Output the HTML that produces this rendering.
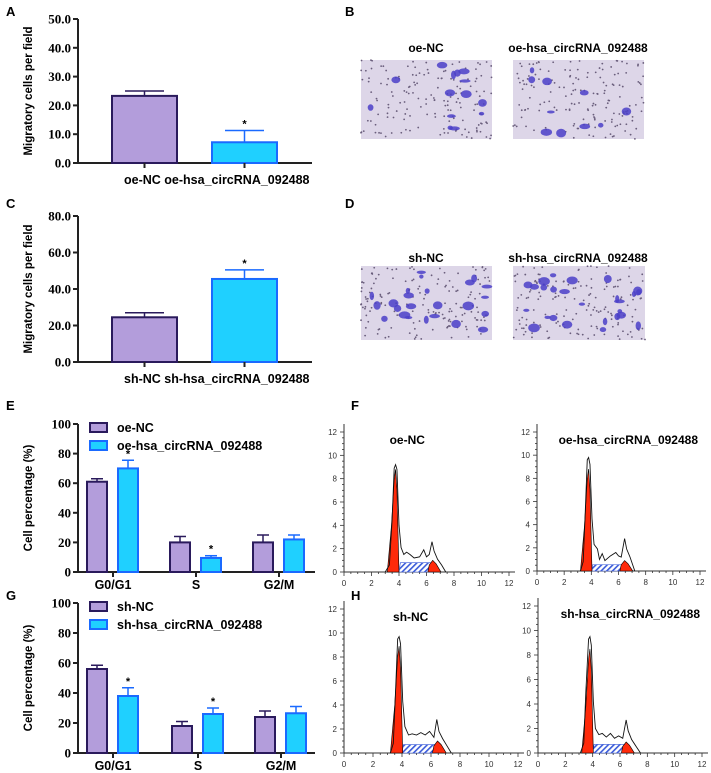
<!DOCTYPE html>
<html><head><meta charset="utf-8"><style>
html,body{margin:0;padding:0;background:#fff}
svg{display:block}
.lab{font-family:"Liberation Sans",sans-serif;font-weight:bold}
.tick{font-family:"Liberation Serif",serif;font-weight:bold}
.ht{font-family:"Liberation Sans",sans-serif;font-size:8px;fill:#333}
</style></head><body>
<svg id="fig" width="711" height="773" viewBox="0 0 711 773" xmlns="http://www.w3.org/2000/svg">
<defs>
<pattern id="hatch" width="4" height="4" patternUnits="userSpaceOnUse" patternTransform="rotate(45)">
<rect width="4" height="4" fill="#fff"/><rect width="1.6" height="4" fill="#3a5bd9"/>
</pattern>
</defs>
<g class="lab" font-size="13">
<text x="6" y="16">A</text>
<text x="345" y="16">B</text>
<text x="6" y="208">C</text>
<text x="345" y="208">D</text>
<text x="6" y="410">E</text>
<text x="351" y="410">F</text>
<text x="6" y="600">G</text>
<text x="351" y="600">H</text>
</g>
<g class="lab" font-size="12">
<text x="426" y="52" text-anchor="middle">oe-NC</text>
<text x="578" y="52" text-anchor="middle">oe-hsa_circRNA_092488</text>
<text x="426" y="262" text-anchor="middle">sh-NC</text>
<text x="578" y="262" text-anchor="middle">sh-hsa_circRNA_092488</text>
</g>
<g id="photos"></g>
<g id="charts"></g>
</svg>
<script>
// ---- bar chart data ----
const migCats = ["oe-NC","oe-hsa_circRNA_092488"];
const migA = [23.3, 7.2];
const migAErr = [25.0, 11.3];
const migCcats = ["sh-NC","sh-hsa_circRNA_092488"];
const migC = [24.5, 45.5];
const migCErr = [27.0, 50.5];
const phaseCats = ["G0/G1","S","G2/M"];
const eNC = [61, 20, 20];
const eNCErr = [63, 24, 25];
const eCirc = [70, 9.5, 22];
const eCircErr = [75.5, 11, 25];
const gNC = [56, 18, 24];
const gNCErr = [58.5, 21, 28];
const gCirc = [38, 26, 26.5];
const gCircErr = [43.5, 30, 31];
const ticksA = [0,10,20,30,40,50];
const ticksC = [0,20,40,60,80];
const ticksE = [0,20,40,60,80,100];
// ---- histogram data (x = DNA content, y = count) ----
const envOeNC = [[3.0,0],[3.3,0.6],[3.5,4.5],[3.65,8.9],[3.75,9.2],[3.85,8.8],[4.0,4],[4.15,2.1],[4.35,1.5],[4.55,1.7],[4.8,1.5],[5.1,1.2],[5.5,1.3],[5.8,1.9],[6.0,1.3],[6.2,1.5],[6.4,2.6],[6.55,1.8],[6.8,1.1],[7.1,0.6],[7.4,0]];
const envOeCirc = [[3.2,0],[3.4,0.8],[3.55,5],[3.7,9.6],[3.8,9.8],[3.9,9.2],[4.05,4.5],[4.2,2.3],[4.45,1.9],[4.6,1.0],[4.8,1.5],[5.0,0.9],[5.4,1.3],[5.8,1.6],[6.0,1.3],[6.2,1.2],[6.45,2.8],[6.6,1.9],[6.85,1.2],[7.2,0]];
const envShNC = [[3.2,0],[3.4,0.8],[3.55,5],[3.7,9.5],[3.8,9.7],[3.9,9.1],[4.05,4.3],[4.2,2.2],[4.45,1.5],[4.7,1.6],[5.0,1.5],[5.3,1.7],[5.6,1.5],[5.9,1.8],[6.2,1.3],[6.4,2.8],[6.55,1.8],[6.8,1.2],[7.1,0.6],[7.4,0]];
const envShCirc = [[3.1,0],[3.35,0.8],[3.5,5],[3.7,9.3],[3.8,9.5],[3.9,8.8],[4.05,4.2],[4.2,2.0],[4.45,1.5],[4.7,1.6],[5.0,1.3],[5.3,1.6],[5.6,1.2],[5.9,1.4],[6.2,1.2],[6.45,2.7],[6.6,1.8],[6.85,1.1],[7.2,0.5],[7.5,0]];
const g1Peaks = [8.8, 8.8, 8.9, 8.5];
const sHeights = [0.8, 0.55, 0.7, 0.7];
const g2Peaks = [1.0, 0.9, 1.0, 0.9];
const histTitles = ["oe-NC","oe-hsa_circRNA_092488","sh-NC","sh-hsa_circRNA_092488"];
const histTicks = [0,2,4,6,8,10,12];

const NS="http://www.w3.org/2000/svg";
const charts=document.getElementById('charts');
function mk(tag,attrs,parent){const e=document.createElementNS(NS,tag);for(const k in attrs)e.setAttribute(k,attrs[k]);(parent||charts).appendChild(e);return e;}
const NCF="#b39ddb",NCS="#2a1a5c",CF="#1fd0ff",CS="#1a6aff";

function yAxis(g,x0,y0,y1,max,ticks,fmt,title,right){
  const sy=v=>y0-(v/max)*(y0-y1);
  let l=mk('line',{x1:x0,y1:y1,x2:x0,y2:y0,stroke:'#222','stroke-width':2},g);
  
  
  ticks.forEach(t=>{
    mk('line',{x1:x0-5,x2:x0,y1:sy(t),y2:sy(t),stroke:'#222','stroke-width':2},g);
    const tx=mk('text',{x:x0-7,y:sy(t)+4.5,'text-anchor':'end','font-size':13,class:'tick'},g);
    tx.textContent=fmt(t);
    
    
  });
  mk('line',{x1:x0,y1:y0,x2:right,y2:y0,stroke:'#222','stroke-width':2},g);
  const yt=mk('text',{transform:`translate(${x0-46},${(y0+y1)/2}) rotate(-90)`,'text-anchor':'middle','font-size':11.5,class:'lab'},g);
  yt.textContent=title;
  
  
  return sy;
}
function bar(g,x,w,v,err,sy,fill,stroke,star,name){
  const y0=sy(0),y=sy(v);
  mk('line',{x1:x+w/2,x2:x+w/2,y1:y,y2:sy(err),stroke:stroke,'stroke-width':1.5},g);
  mk('line',{x1:x+w/2-w*0.3,x2:x+w/2+w*0.3,y1:sy(err),y2:sy(err),stroke:stroke,'stroke-width':1.5},g);
  const r=mk('rect',{x:x,y:y,width:w,height:y0-y,fill:fill,stroke:stroke,'stroke-width':2},g);
  
  
  if(star){const s=mk('text',{x:x+w/2,y:sy(err)-3,'text-anchor':'middle','font-size':11,class:'lab'},g);s.textContent='*';}
}
function migChart(y0,y1,max,ticks,cats,vals,errs,id){
  const g=mk('g',{});
  
  
  const sy=yAxis(g,78,y0,y1,max,ticks,t=>t.toFixed(1),'Migratory cells per field',312);
  const xs=[112,212],fills=[NCF,CF],strokes=[NCS,CS];
  cats.forEach((c,i)=>{
    bar(g,xs[i],65,vals[i],errs[i],sy,fills[i],strokes[i],i==1,'bar-'+c);
    mk('line',{x1:xs[i]+32.5,x2:xs[i]+32.5,y1:y0,y2:y0+5,stroke:'#222','stroke-width':2},g);
  });
  const t=mk('text',{x:124,y:y0+21,'font-size':12.5,class:'lab'},g);
  t.textContent=cats[0]+' '+cats[1];
  
  
}
migChart(163,19,50,ticksA,migCats,migA,migAErr,'migration-chart-oe');
migChart(362,216,80,ticksC,migCcats,migC,migCErr,'migration-chart-sh');

function cycleChart(y0,y1,nc,ncE,ci,ciE,lg,starsC,id,centers){
  const g=mk('g',{});
  
  
  const sy=yAxis(g,78,y0,y1,100,ticksE,t=>String(t),'Cell percentage (%)',315);
  phaseCats.forEach((c,i)=>{
    const cx=centers[i];
    bar(g,cx-26,20,nc[i],ncE[i],sy,NCF,NCS,false,'bar-nc-'+c);
    bar(g,cx+5,20,ci[i],ciE[i],sy,CF,CS,starsC[i],'bar-circ-'+c);
    mk('line',{x1:cx,x2:cx,y1:y0,y2:y0+5,stroke:'#222','stroke-width':2},g);
    const t=mk('text',{x:cx,y:y0+17,'text-anchor':'middle','font-size':12.5,class:'lab'},g);
    t.textContent=c;
    
    
  });
  [[NCF,NCS],[CF,CS]].forEach((p,i)=>{
    const r=mk('rect',{x:90,y:y1-1+i*18,width:17,height:9,fill:p[0],stroke:p[1],'stroke-width':2},g);
    
    
    const t=mk('text',{x:117,y:y1+8+i*18,'font-size':12.5,class:'lab'},g);
    t.textContent=lg[i];
    
    
  });
}
cycleChart(572,424,eNC,eNCErr,eCirc,eCircErr,["oe-NC","oe-hsa_circRNA_092488"],[true,true,false],'cell-cycle-chart-oe',[113,196,279]);
cycleChart(753,603,gNC,gNCErr,gCirc,gCircErr,["sh-NC","sh-hsa_circRNA_092488"],[true,true,false],'cell-cycle-chart-sh',[113,198,281]);

// histograms
const envs=[envOeNC,envOeCirc,envShNC,envShCirc];
const frames=[[344,509,572,432],[537,700,571,432],[344,518,753,609],[538,702,753,606]];
envs.forEach((env,k)=>{
  const [xa,xb,ya,yb]=frames[k];
  const g=mk('g',{});
  
  
  const sx=v=>xa+v/12*(xb-xa), sy=v=>ya-v/12*(ya-yb);
  mk('line',{x1:xa,y1:yb-8,x2:xa,y2:ya,stroke:'#333','stroke-width':1},g);
  mk('line',{x1:xa,y1:ya,x2:xb+6,y2:ya,stroke:'#333','stroke-width':1},g);
  for(let v=0;v<=12.01;v+=0.5){
    const big=Math.abs(v%2)<0.01;
    mk('line',{x1:sx(v),x2:sx(v),y1:ya,y2:ya+(big?4:2),stroke:'#333','stroke-width':0.8},g);
    mk('line',{x1:xa,x2:xa-(big?4:2),y1:sy(v),y2:sy(v),stroke:'#333','stroke-width':0.8},g);
  }
  histTicks.forEach(t=>{
    const a=mk('text',{x:sx(t),y:ya+14,'text-anchor':'middle',class:'ht'},g);a.textContent=t;
    const b=mk('text',{x:xa-7,y:sy(t)+3,'text-anchor':'end',class:'ht'},g);b.textContent=t;
  });
  const sh=sHeights[k];
  const sp=mk('polygon',{points:[[4.0,0],[4.1,sh],[6.3,sh],[6.5,0]].map(p=>sx(p[0])+','+sy(p[1])).join(' '),fill:'url(#hatch)',stroke:'#3a5bd9','stroke-width':0.6},g);
  
  
  const gp=g2Peaks[k];
  const g2=mk('polygon',{points:[[6.1,0],[6.2,gp*0.6],[6.45,gp],[6.7,gp*0.7],[7.05,0]].map(p=>sx(p[0])+','+sy(p[1])).join(' '),fill:'#ff2a0a',stroke:'#000','stroke-width':0.6},g);
  
  
  const p1=g1Peaks[k], c=env.reduce((a,b)=>b[1]>a[1]?b:a)[0];
  const g1=mk('polygon',{points:[[c-0.6,0],[c-0.3,p1*0.45],[c-0.1,p1*0.9],[c,p1],[c+0.1,p1*0.8],[c+0.25,0]].map(p=>sx(p[0])+','+sy(p[1])).join(' '),fill:'#ff2a0a',stroke:'#000','stroke-width':0.6},g);
  
  
  const pl=mk('polyline',{points:env.map(p=>sx(p[0])+','+sy(p[1])).join(' '),fill:'none',stroke:'#111','stroke-width':0.9},g);
  
  
  const t=mk('text',{x:k%2? xb-2 : sx(4.6),y:yb+12,'text-anchor':k%2?'end':'middle','font-size':12,class:'lab'},g);
  t.textContent=histTitles[k];
  
  
});

// microscope photos (decorative texture)
const photos=document.getElementById('photos');
let seed=7;const rnd=()=>{seed=(seed*16807)%2147483647;return seed/2147483647;};
[[361,60,131,79,14],[513,60,131,79,10],[361,266,131,74,24],[513,266,132,74,26]].forEach((f,i)=>{
  const [x,y,w,h,nb]=f;
  const g=mk('g',{},photos);
  
  
  mk('rect',{x:x,y:y,width:w,height:h,fill:'#ddd6e8'},g);
  for(let j=0;j<160;j++)mk('circle',{cx:x+rnd()*w,cy:y+rnd()*h,r:0.9,fill:'#6a5e7c'},g);
  for(let j=0;j<nb;j++)mk('ellipse',{cx:x+4+rnd()*(w-8),cy:y+4+rnd()*(h-8),rx:2+rnd()*4,ry:1.5+rnd()*3,fill:'#4b3fc8',opacity:0.85},g);
});
</script>
</body></html>
